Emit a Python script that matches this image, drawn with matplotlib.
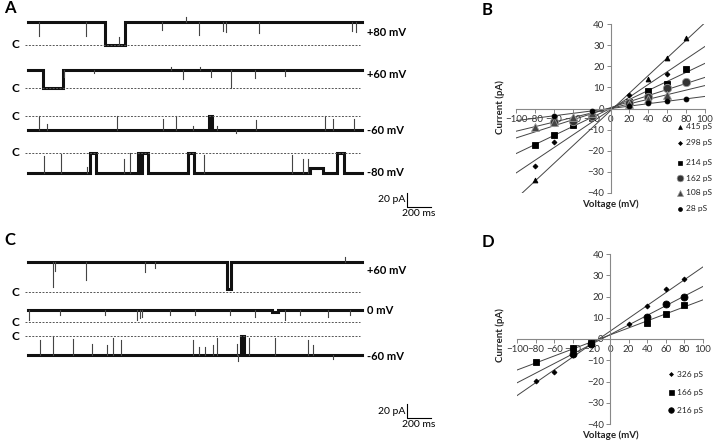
import numpy as np
import matplotlib
matplotlib.use('Agg')
import matplotlib.pyplot as plt

plt.rcParams['font.family'] = ['Lato', 'DejaVu Sans']

# ---------------- single-channel records ----------------
# open current in pA, closures (start ms, end ms, level as fraction of open),
# spikes (time ms, level reached as fraction of open)
a80_amp = 33.0
a80_closures = [(640, 810, 0.0)]
a80_spikes = [(92, 0.4), (483, 0.4), (758, 0.35), (1117, 0.65), (1317, 1.2),
              (1425, 0.45), (1625, 0.6), (1650, 0.55), (1925, 0.5),
              (2700, 0.6), (2733, 0.55)]

a60_amp = 26.0
a60_closures = [(125, 290, 0.0)]
a60_spikes = [(300, 0.6), (550, 0.8), (1192, 1.15), (1292, 0.5), (1433, 1.15),
              (1525, 0.6), (1692, 0.0), (1892, 0.55), (2142, 0.65)]

am60_amp = -20.0
am60_closures = [(1505, 1530, 0.0)]
am60_spikes = [(92, 0.0), (158, 0.6), (742, 0.0), (1125, 0.2), (1233, 0.0),
               (1375, 0.7), (1575, 0.7), (1733, 1.2), (1900, 0.3),
               (2475, 0.0), (2542, 0.2), (2717, 0.2)]

am80_amp = -28.6
am80_closures = [(517, 567, 0.0), (917, 933, 0.0), (950, 1000, 0.0),
                 (1333, 1383, 0.0), (2350, 2458, 0.75), (2575, 2633, 0.0)]
am80_spikes = [(133, 0.15), (275, 0.05), (492, 0.7), (800, 0.3), (850, 0.0),
               (1467, 0.1), (2200, 0.1), (2292, 0.3), (2333, 0.3)]

c60_amp = 43.0
c60_closures = [(1660, 1690, 0.1)]
c60_spikes = [(208, 0.15), (225, 0.7), (483, 0.4), (975, 0.65), (1058, 0.8),
              (2642, 1.15)]

c0_amp = 17.0
c0_closures = [(2030, 2080, 0.8)]
c0_spikes = [(5, 0.2), (267, 0.6), (642, 0.6), (908, 0.2), (933, 0.3),
             (950, 0.4), (1183, 0.6), (1392, 0.6), (1683, 0.6), (1892, 0.4),
             (2142, 0.2), (2267, 0.6), (2500, 0.4), (2683, 0.6)]

cm60_amp = -27.0
cm60_closures = [(1775, 1800, 0.0)]
cm60_spikes = [(100, 0.2), (208, 0.0), (375, 0.15), (533, 0.4), (658, 0.5),
               (708, 0.1), (775, 0.2), (1375, 0.2), (1425, 0.6), (1475, 0.6),
               (1542, 0.5), (1575, 0.1), (1742, 0.4), (1750, 1.3), (1842, 0.1),
               (2058, 0.1), (2333, 0.2), (2375, 0.5), (2542, 1.2)]

# ---------------- I-V data ----------------
b_labels = ['415 pS', '298 pS', '214 pS', '162 pS', '108 pS', '28 pS']
b_v = [[-80, 40, 60, 80],
       [-80, -60, 20, 60],
       [-80, -60, -40, -20, 20, 40, 60, 80],
       [-60, -40, -20, 20, 40, 60, 80],
       [-80, -60, -40, -20, 20, 40, 60],
       [-60, -20, 20, 40, 60, 80]]
b_i = [[-34, 14, 24, 33.5],
       [-27, -16, 6.3, 16.4],
       [-17.3, -12.5, -7.9, -4, 3, 8.4, 11.5, 18.9],
       [-6.5, -6, -3.5, 2.5, 5.5, 9.5, 12.7],
       [-8.8, -6.3, -4.2, -2, 2, 4.5, 6.5],
       [-3.5, -1.2, 1.2, 2.4, 3.5, 4.4]]

d_labels = ['326 pS', '166 pS', '216 pS']
d_v = [[-80, -60, -40, 20, 40, 60, 80],
       [-80, -40, -20, 40, 60, 80],
       [-40, -20, 40, 60, 80]]
d_i = [[-19.7, -15.3, -7.6, 7.1, 15.3, 23.7, 28.1],
       [-11, -4.2, -2, 7.3, 12, 16],
       [-7.1, -2.2, 10.2, 16.6, 20]]

W, H = 713, 442
fig = plt.figure(figsize=(W / 100, H / 100), dpi=100)


def X(px):
    # pixel column -> ms on the trace axes
    return (px - 28) / 0.12


def Y(py):
    # pixel row -> pA on the trace axes
    return (H - py) / 0.7


tr = fig.add_axes([0, 0, 450 / W, 1])
tr.set_xlim(X(0), X(450))
tr.set_ylim(Y(H), Y(0))
tr.axis('off')

T_END = X(362)


def draw_trace(c_row, amp, closures, spikes, label, label_row):
    base = Y(c_row)
    xs, ys = [0], [1.0]
    for t0, t1, f in closures:
        xs += [t0, t0, t1, t1]
        ys += [1.0, f, f, 1.0]
    xs.append(T_END)
    ys.append(1.0)
    ys = np.array(ys)
    tr.plot(xs, base + amp * ys, color='#111', lw=2.2, solid_joinstyle='miter')
    for t, f in spikes:
        lev = 1.0
        for t0, t1, fc in closures:
            if t0 <= t <= t1:
                lev = fc
        tr.plot([t, t], [base + amp * lev, base + amp * f], color='#444', lw=0.8)
    tr.plot([X(25), X(360)], [base, base], color='#555', lw=0.7, ls=(0, (2, 1.5)))
    tr.text(X(15), base, 'C', ha='center', va='center', fontsize=8.5, fontweight='bold')
    tr.text(X(367), Y(label_row), label, ha='left', va='center', fontsize=8, fontweight='bold')


draw_trace(45, a80_amp, a80_closures, a80_spikes, '+80 mV', 33)
draw_trace(88, a60_amp, a60_closures, a60_spikes, '+60 mV', 75)
draw_trace(116, am60_amp, am60_closures, am60_spikes, '-60 mV', 130)
draw_trace(153, am80_amp, am80_closures, am80_spikes, '-80 mV', 172)
draw_trace(292, c60_amp, c60_closures, c60_spikes, '+60 mV', 270)
draw_trace(322, c0_amp, c0_closures, c0_spikes, '0 mV', 310)
draw_trace(336, cm60_amp, cm60_closures, cm60_spikes, '-60 mV', 356)


def scale_bar(row):
    t0, y0 = X(407), Y(row)
    tr.plot([t0, t0, t0 + 200], [y0 + 20, y0, y0], color='black', lw=0.8)
    tr.text(t0 - 12, y0 + 10, '20 pA', ha='right', va='center', fontsize=7.5)
    tr.text(t0 + 100, y0 - 3, '200 ms', ha='center', va='top', fontsize=7.5)


scale_bar(207)
scale_bar(418)

for letter, px, py in [('A', 4, 8), ('C', 4, 240), ('B', 482, 10), ('D', 482, 242)]:
    fig.text(px / W, 1 - py / H, letter, fontsize=12, fontweight='bold', va='center')


def iv_panel(left, top, right, bottom, vs, cs, labels, styles, leg_x, leg_rows, lab_rows):
    ax = fig.add_axes([left / W, 1 - bottom / H, (right - left) / W, (bottom - top) / H])
    ax.set_xlim(-100, 100)
    ax.set_ylim(-40, 40)
    for s in ['top', 'right']:
        ax.spines[s].set_visible(False)
    for s in ['left', 'bottom']:
        ax.spines[s].set_position(('data', 0))
        ax.spines[s].set_color('#888')
        ax.spines[s].set_linewidth(0.8)
    ax.set_xticks(range(-100, 101, 20))
    ax.set_yticks(range(-40, 41, 10))
    ax.tick_params(direction='out', length=3, width=0.7, color='#888',
                   labelsize=7, labelcolor='#333', pad=1.5)
    ax.patch.set_alpha(0)
    xx = np.array([-100, 100])
    for v, c, (mk, ms, fc, ec) in zip(vs, cs, styles):
        k, b = np.polyfit(v, c, 1)
        ax.plot(xx, k * xx + b, color='#444', lw=0.7)
        ax.plot(v, c, ls='none', marker=mk, ms=ms, color=fc, mec=ec, mew=0.6, zorder=3)
    for lab, row, (mk, ms, fc, ec) in zip(labels, leg_rows, styles):
        ax.plot([leg_x / W], [1 - row / H], transform=fig.transFigure, clip_on=False,
                marker=mk, ms=ms * 0.8, color=fc, mec=ec, mew=0.5, ls='none')
        fig.text((leg_x + 6) / W, 1 - row / H, lab, fontsize=6, va='center', color='#222')
    fig.text(500 / W, 1 - lab_rows[0] / H, 'Current (pA)', rotation=90, ha='center',
             va='center', fontsize=7, fontweight='bold', color='#222')
    fig.text(610 / W, 1 - lab_rows[1] / H, 'Voltage (mV)', ha='center',
             va='center', fontsize=7, fontweight='bold', color='#222')
    return ax


b_styles = [('^', 3.5, 'black', 'black'), ('D', 2.5, 'black', 'black'),
            ('s', 4, 'black', 'black'), ('o', 6, '#333', '#999'),
            ('^', 6, '#444', '#999'), ('o', 3.5, 'black', 'black')]
iv_panel(516, 24, 705, 193, b_v, b_i, b_labels, b_styles, 680,
         [127, 143, 163, 178, 193, 209], (107, 204))

d_styles = [('D', 2.5, 'black', 'black'), ('s', 4.5, 'black', 'black'),
            ('o', 5, 'black', 'black')]
iv_panel(517, 254, 703, 424, d_v, d_i, d_labels, d_styles, 671,
         [374, 392, 410], (335, 435))

fig.savefig('out.png', dpi=100)
